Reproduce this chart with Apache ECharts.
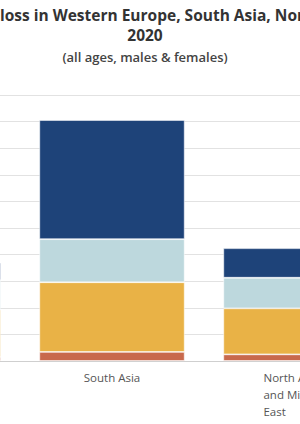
<!DOCTYPE html>
<html>
<head>
<meta charset="utf-8">
<script src="https://cdn.jsdelivr.net/npm/echarts@6/dist/echarts.min.js"></script>
<style>
html,body{margin:0;padding:0;background:#fff;overflow:hidden;width:300px;height:424px;position:relative;}
#chart{position:absolute;left:-164px;top:0;width:552px;height:424px;}
</style>
</head>
<body>
<div id="chart"></div>
<script>
// ---- data ----
const categories = ['Western Europe', 'South Asia', 'North Africa and Middle East'];
const seriesNames = ['Series 1', 'Series 2', 'Series 3', 'Series 4'];
const seriesColors = ['#c8694c', '#e9b246', '#bdd8dd', '#1e4379'];
const s1 = [0.15, 0.34, 0.25];
const s2 = [1.77, 2.62, 1.73];
const s3 = [1.13, 1.62, 1.15];
const s4 = [0.64, 4.48, 1.11];
const titlePrefix = 'Years of healthy life ';
const titleLine1 = 'loss in Western Europe, South Asia, North Africa and Middle East,';
const titleLine2 = '2020';
const subtitle = '(all ages, males & females)';

const OFFSET = 164; // chart canvas extends beyond the visible window on the left
const titleFont = 'bold 15.5px "Open Sans"';
const cv = document.createElement('canvas').getContext('2d');
cv.font = titleFont;
const prefixW = cv.measureText(titlePrefix).width;

const chart = echarts.init(document.getElementById('chart'), null, {renderer: 'svg'});
const values = [s1, s2, s3, s4];
chart.setOption({
  animation: false,
  textStyle: {fontFamily: '"Open Sans", sans-serif'},
  graphic: [
    {type: 'text', x: OFFSET - prefixW, y: 15, style: {text: titlePrefix + titleLine1, font: titleFont, fill: '#333', textAlign: 'left', textVerticalAlign: 'middle'}},
    {type: 'text', x: OFFSET + 145, y: 35, style: {text: titleLine2, font: titleFont, fill: '#333', textAlign: 'center', textVerticalAlign: 'middle'}},
    {type: 'text', x: OFFSET + 145, y: 57, style: {text: subtitle, font: '600 13px "Open Sans"', fill: '#444', textAlign: 'center', textVerticalAlign: 'middle'}}
  ],
  grid: {left: 0, right: 0, top: 95, bottom: 63, containLabel: false},
  xAxis: {
    type: 'category',
    data: categories,
    axisTick: {show: false},
    axisLine: {lineStyle: {color: '#cfcfcf'}},
    axisLabel: {
      margin: 8,
      color: '#555',
      fontSize: 11.5,
      lineHeight: 17,
      interval: 0,
      formatter: function (v) {
        const words = v.split(' ');
        const lines = [];
        let cur = '';
        words.forEach(function (w) {
          const t = cur ? cur + ' ' + w : w;
          if (t.length > 12 && cur) { lines.push(cur); cur = w; } else { cur = t; }
        });
        lines.push(cur);
        return lines.map(function (l) { return '{l|' + l + '}'; }).join('\n');
      },
      rich: {l: {align: 'left', fontSize: 11.5, lineHeight: 17, color: '#555'}}
    }
  },
  yAxis: {
    type: 'value',
    min: 0, max: 10, interval: 1,
    axisLabel: {show: false},
    axisLine: {show: false},
    axisTick: {show: false},
    splitLine: {lineStyle: {color: '#e2e2e2'}}
  },
  series: values.map(function (d, i) {
    return {
      name: seriesNames[i],
      type: 'bar',
      stack: 'total',
      barCategoryGap: '21%',
      data: d,
      itemStyle: {color: seriesColors[i], borderColor: 'rgba(255,255,255,0.7)', borderWidth: 0.8}
    };
  })
});
</script>
</body>
</html>
